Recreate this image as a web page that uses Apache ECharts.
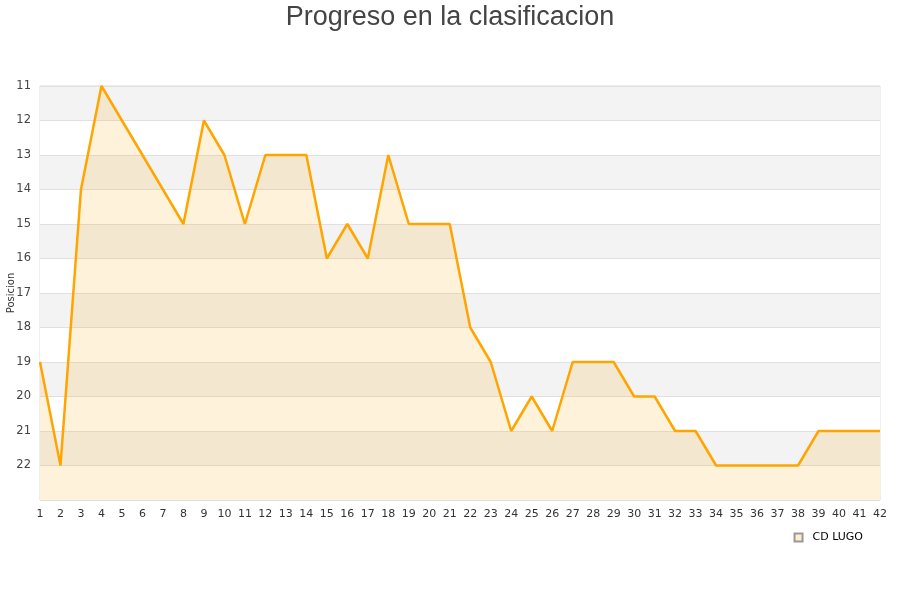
<!DOCTYPE html>
<html>
<head>
<meta charset="utf-8">
<script src="https://cdn.jsdelivr.net/npm/echarts@6/dist/echarts.min.js"></script>
<style>html,body{margin:0;padding:0;background:#fff;}#c{width:900px;height:600px;}</style>
</head>
<body>
<div id="c"></div>
<script>
const jornadas = [1,2,3,4,5,6,7,8,9,10,11,12,13,14,15,16,17,18,19,20,21,22,23,24,25,26,27,28,29,30,31,32,33,34,35,36,37,38,39,40,41,42];
const posiciones = [19,22,14,11,12,13,14,15,12,13,15,13,13,13,16,15,16,13,15,15,15,18,19,21,20,21,19,19,19,20,20,21,21,22,22,22,22,22,21,21,21,21];
const equipo = 'CD LUGO';
const titulo = 'Progreso en la clasificacion';

const chart = echarts.init(document.getElementById('c'));
chart.setOption({
  animation: false,
  title: {
    text: titulo, left: 'center', top: -1,
    textStyle: {fontFamily: 'Liberation Sans, Arial, sans-serif', fontSize: 27, fontWeight: 'normal', color: '#444'}
  },
  legend: {
    data: [equipo], right: 32, top: 527, icon: 'rect', itemWidth: 8, itemHeight: 8, itemGap: 6,
    textStyle: {fontFamily: 'DejaVu Sans, sans-serif', fontSize: 11, color: '#000', padding: [0, 0, 0, 5]}
  },
  grid: {left: 40, right: 20, top: 86, bottom: 100, show: true, borderColor: '#ddd', borderWidth: 1,
    containLabel: false, outerBoundsMode: 'none'},
  xAxis: {
    type: 'category', data: jornadas, boundaryGap: false,
    axisLine: {show: false}, axisTick: {show: false},
    axisLabel: {color: '#333', fontSize: 11, fontFamily: 'DejaVu Sans, sans-serif', margin: 9, interval: 0},
    splitLine: {show: false}
  },
  yAxis: {
    type: 'value', inverse: true, min: 11, max: 23, interval: 1,
    name: 'Posicion', nameLocation: 'middle', nameRotate: 90, nameGap: 24, nameMoveOverlap: false,
    nameTextStyle: {fontSize: 10, color: '#333', fontFamily: 'DejaVu Sans, sans-serif'},
    axisLine: {show: false}, axisTick: {show: false},
    axisLabel: {color: '#444', fontSize: 11.5, fontFamily: 'DejaVu Sans, sans-serif', margin: 9,
      formatter: v => v === 23 ? '' : String(v)},
    splitLine: {show: true, lineStyle: {color: '#e0e0e0'}},
    splitArea: {show: true, areaStyle: {color: ['#f3f3f3', '#ffffff']}}
  },
  series: [{
    name: equipo, type: 'line', data: posiciones, symbol: 'none',
    lineStyle: {color: '#FFA500', width: 2.5},
    itemStyle: {color: '#FFEDCC', borderColor: '#999', borderWidth: 1},
    areaStyle: {color: 'rgba(255,165,0,0.2)', origin: 'end'}
  }]
});
</script>
</body>
</html>
